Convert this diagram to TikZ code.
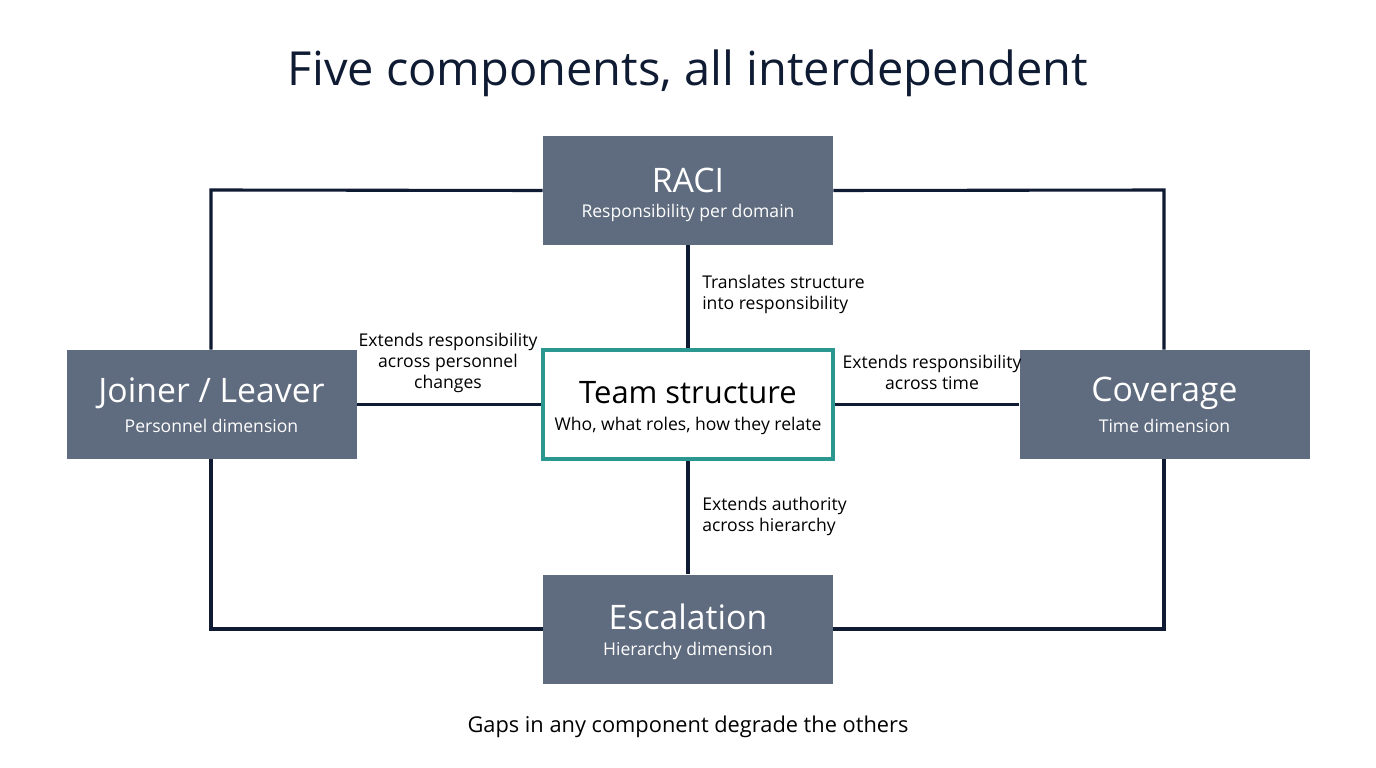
\documentclass[tikz,border=0pt]{standalone}
\usepackage{fontspec}
\setmainfont{Open Sans}
\begin{document}
\begin{tikzpicture}[x=0.025cm,y=-0.025cm,
 box/.style={fill=boxc,draw=none,minimum width=290*0.025cm,minimum height=109*0.025cm,align=center,text=white,inner sep=0},
 ln/.style={draw=navy,line width=2.2pt,line join=miter},
 lab/.style={font=\fontsize{12.5}{15}\selectfont,text=black,inner sep=0}]
\definecolor{boxc}{HTML}{5F6B7E}
\definecolor{navy}{HTML}{0F1B33}
\definecolor{teal}{HTML}{2A9890}
\useasboundingbox (0,0) rectangle (1376,768);
\fill[white] (0,0) rectangle (1376,768);
\node[font=\fontsize{33.4}{38}\selectfont,text=navy] (title) at (688,73) {Five components, all interdependent};
\coordinate (c1) at (211,190); \coordinate (c2) at (1164,190);
\coordinate (c3) at (211,629); \coordinate (c4) at (1164,629);
\node[box] (raci) at (688,190.5) {};
\node[box] (join) at (211.5,404.5) {};
\node[box] (cov) at (1164.5,404.5) {};
\node[box] (esc) at (688,629) {};
\node[draw=teal,line width=3pt,fill=white,minimum width=290*0.025cm,minimum height=109*0.025cm,inner sep=0] (team) at (688,404.5) {};
\draw[ln] (raci.west) -- (c1) -- (join.north -| c1);
\draw[ln] (raci.east) -- (c2) -- (cov.north -| c2);
\draw[ln] (join.south -| c3) -- (c3) -- (esc.west);
\draw[ln] (cov.south -| c4) -- (c4) -- (esc.east);
\draw[ln] (team.north) -- (raci.south);
\draw[ln] (team.south) -- (esc.north);
\draw[ln] (team.west) -- (join.east);
\draw[ln] (team.east) -- (cov.east -| cov.west);
\node[text=white,font=\fontsize{24}{28}\selectfont] (t1) at (688,180) {RACI};
\node[text=white,font=\fontsize{12.5}{15}\selectfont] (s1) at (688,213) {Responsibility per domain};
\node[text=white,font=\fontsize{24}{28}\selectfont] (t2) at (211.5,393) {Joiner / Leaver};
\node[text=white,font=\fontsize{12.5}{15}\selectfont] (s2) at (211.5,426) {Personnel dimension};
\node[text=white,font=\fontsize{24}{28}\selectfont] (t3) at (1164.5,393) {Coverage};
\node[text=white,font=\fontsize{12.5}{15}\selectfont] (s3) at (1164.5,426) {Time dimension};
\node[text=white,font=\fontsize{24}{28}\selectfont] (t4) at (688,617) {Escalation};
\node[text=white,font=\fontsize{12.5}{15}\selectfont] (s4) at (688,651) {Hierarchy dimension};
\node[text=black,font=\fontsize{22}{26}\selectfont] (t5) at (688,393) {Team structure};
\node[text=black,font=\fontsize{12.5}{15}\selectfont] (s5) at (688,426) {Who, what roles, how they relate};
\node[lab,anchor=north west,align=left] (l1) at (702,275) {Translates structure\\into responsibility};
\node[lab,anchor=north,align=center] (l2) at (448,333) {Extends responsibility\\across personnel\\changes};
\node[lab,anchor=north,align=center] (l3) at (932,355) {Extends responsibility\\across time};
\node[lab,anchor=north west,align=left] (l4) at (702,497) {Extends authority\\across hierarchy};
\node[font=\fontsize{15.5}{18}\selectfont,text=black] (cap) at (688,727) {Gaps in any component degrade the others};
\end{tikzpicture}
\end{document}
